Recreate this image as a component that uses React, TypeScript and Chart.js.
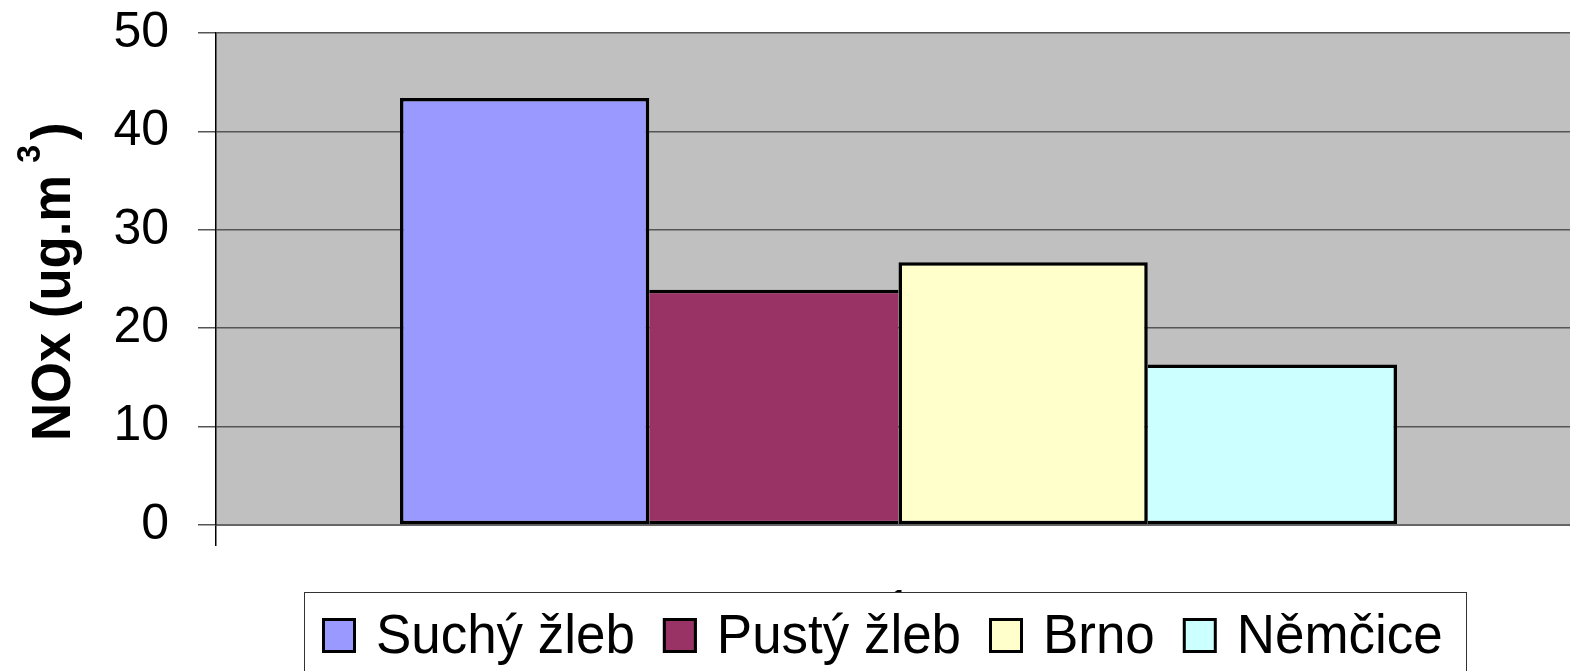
import React, { useEffect, useRef } from 'react';
import { Chart, registerables } from 'chart.js';

Chart.register(...registerables);

// ---- data ----
const categories = ['1'];
const seriesNames = ['Suchý žleb', 'Pustý žleb', 'Brno', 'Němčice'];
const suchyZleb = [43.4];
const pustyZleb = [23.9];
const brno = [26.7];
const nemcice = [16.3];
const seriesColors = ['#9999FF', '#993366', '#FFFFCC', '#CCFFFF'];
const yTickValues = [0, 10, 20, 30, 40, 50];
const yTitleMain = 'NOx (ug.m';
const yTitleSup = '3';
const yTitleEnd = ')';

const FONT = '"Liberation Sans", Arial, Helvetica, sans-serif';
const BW = 3.5;

const seriesValues = [suchyZleb, pustyZleb, brno, nemcice];

const bgPlugin = {
  id: 'bgPlugin',
  beforeDraw(chart: any) {
    const { ctx, chartArea: a, width, height } = chart;
    ctx.save();
    ctx.fillStyle = '#ffffff';
    ctx.fillRect(0, 0, width, height);
    ctx.fillStyle = '#C0C0C0';
    ctx.fillRect(a.left, a.top, a.right - a.left, a.bottom - a.top);
    ctx.restore();
  },
};

const titlePlugin = {
  id: 'titlePlugin',
  afterDraw(chart: any) {
    const { ctx, chartArea: a } = chart;
    ctx.save();
    ctx.translate(70, a.bottom - 84);
    ctx.rotate(-Math.PI / 2);
    ctx.scale(0.94, 1);
    ctx.fillStyle = '#000';
    ctx.textAlign = 'left';
    ctx.textBaseline = 'alphabetic';
    ctx.font = `bold 56px ${FONT}`;
    ctx.fillText(yTitleMain, 0, 0);
    const w = ctx.measureText(yTitleMain).width;
    ctx.font = `bold 34px ${FONT}`;
    ctx.fillText(yTitleSup, w + 13, -30);
    ctx.font = `bold 56px ${FONT}`;
    ctx.fillText(yTitleEnd, w + 37, 0);
    ctx.restore();
  },
};

const legendPlugin = {
  id: 'legendPlugin',
  afterDraw(chart: any) {
    const { ctx } = chart;
    const left = 304.5;
    const top = 592.5;
    const right = 1466.5;
    ctx.save();
    ctx.fillStyle = '#ffffff';
    ctx.fillRect(left, top, right - left, 120);
    ctx.strokeStyle = '#333333';
    ctx.lineWidth = 1;
    ctx.strokeRect(left, top, right - left, 120);
    let x = 322;
    const boxTop = 618;
    const boxW = 34;
    const boxH = 35;
    chart.data.datasets.forEach((ds: any) => {
      ctx.fillStyle = ds.backgroundColor;
      ctx.fillRect(x, boxTop, boxW, boxH);
      ctx.strokeStyle = '#000';
      ctx.lineWidth = 3;
      ctx.strokeRect(x + 1.5, boxTop + 1.5, boxW - 3, boxH - 3);
      const tx = x + 54;
      ctx.save();
      ctx.translate(tx, 653);
      ctx.scale(0.945, 1);
      ctx.font = `56px ${FONT}`;
      ctx.fillStyle = '#000';
      ctx.textAlign = 'left';
      ctx.textBaseline = 'alphabetic';
      ctx.fillText(ds.label, 0, 0);
      const tw = ctx.measureText(ds.label).width * 0.945;
      ctx.restore();
      x = tx + tw + 28;
    });
    ctx.restore();
  },
};

export default function App() {
  const canvasRef = useRef<HTMLCanvasElement | null>(null);

  useEffect(() => {
    if (!canvasRef.current) return;
    const datasets = seriesNames.map((name, i) => {
      const v = seriesValues[i][0];
      const prev = i > 0 ? seriesValues[i - 1][0] : -Infinity;
      const next = i < seriesValues.length - 1 ? seriesValues[i + 1][0] : -Infinity;
      return {
        label: name,
        data: seriesValues[i],
        backgroundColor: seriesColors[i],
        borderColor: '#000000',
        borderWidth: {
          top: BW,
          bottom: BW,
          left: prev >= v ? 0 : BW,
          right: next > v ? 0 : BW,
        },
        borderSkipped: false,
        barPercentage: 1,
        categoryPercentage: 0.7304,
      };
    });

    const chart = new Chart(canvasRef.current, {
      type: 'bar',
      data: { labels: categories, datasets },
      options: {
        animation: false,
        responsive: false,
        maintainAspectRatio: false,
        devicePixelRatio: 1,
        layout: { padding: { top: 33, right: 19, left: 0, bottom: 0 } },
        plugins: {
          legend: { display: false },
          tooltip: { enabled: false },
          title: { display: false },
        },
        scales: {
          x: {
            type: 'category',
            offset: true,
            grid: {
              display: true,
              drawOnChartArea: false,
              drawTicks: true,
              tickLength: 21,
              color: '#000000',
              lineWidth: 1.5,
              offset: true,
            },
            border: { display: true, color: '#666666', width: 2 },
            ticks: {
              font: { family: FONT, size: 50 },
              color: '#000000',
              padding: 35,
              maxRotation: 0,
            },
            afterFit: (s: any) => {
              s.height = 146;
              s.paddingLeft = 0;
              s.paddingRight = 0;
            },
          },
          y: {
            min: 0,
            max: 50,
            ticks: {
              stepSize: 10,
              font: { family: FONT, size: 50 },
              color: '#000000',
              padding: 29,
            },
            afterBuildTicks: (s: any) => {
              s.ticks = yTickValues.map((v) => ({ value: v }));
            },
            grid: {
              color: '#555555',
              lineWidth: 1.5,
              tickLength: 18,
              drawTicks: true,
            },
            border: { display: true, color: '#000000', width: 1.5 },
            afterFit: (s: any) => {
              s.width = 216;
              s.paddingTop = 0;
              s.paddingBottom = 0;
            },
          },
        },
      } as any,
      plugins: [bgPlugin, titlePlugin, legendPlugin],
    });
    return () => chart.destroy();
  }, []);

  return (
    <div
      style={{
        position: 'fixed',
        left: 0,
        top: 0,
        width: 1570,
        height: 671,
        overflow: 'hidden',
        background: '#ffffff',
      }}
    >
      <canvas
        ref={canvasRef}
        width={1600}
        height={671}
        style={{ display: 'block', width: 1600, height: 671 }}
      />
    </div>
  );
}
